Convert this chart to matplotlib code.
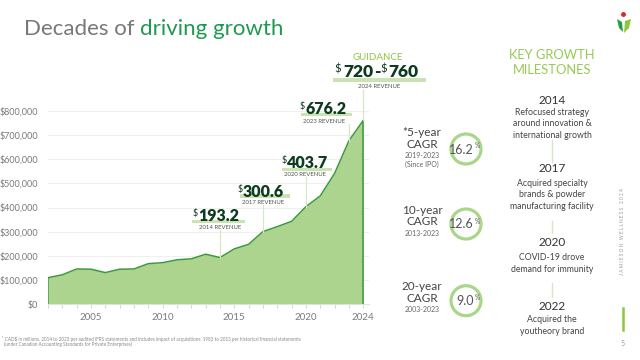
import matplotlib
matplotlib.use("Agg")
import matplotlib.pyplot as plt
from matplotlib.patches import Circle, Rectangle, Polygon
from matplotlib.ticker import FuncFormatter

plt.rcParams['font.family'] = ['Lato', 'DejaVu Sans']

# revenue, CAD$
years = list(range(2002, 2025))
revenue = [110000, 122000, 146000, 145000, 131000, 145000, 146000, 168000, 172000,
           184000, 188000, 207000, 193200, 229000, 248000, 300600, 321000, 343000,
           403700, 448000, 541000, 676200, 760000]
tick_years = [2005, 2010, 2015, 2020, 2024]
y_ticks = list(range(0, 800001, 100000))

callout_years = [2014, 2017, 2020, 2023]
callout_values = [193200, 300600, 403700, 676200]
guidance_low = 720
guidance_high = 760

cagr_names = ["*5-year", "10-year", "20-year"]
cagr_periods = [["2019-2023", "(Since IPO)"], ["2013-2023"], ["2003-2023"]]
cagr_values = [16.2, 12.6, 9.0]

milestone_years = ["2014", "2017", "2020", "2022"]
milestone_text = [["Refocused strategy", "around innovation &", "international growth"],
                  ["Acquired specialty", "brands & powder", "manufacturing facility"],
                  ["COVID-19 drove", "demand for immunity"],
                  ["Acquired the", "youtheory brand"]]

GREEN_FILL = "#acd48e"
GREEN_LINE = "#3c9a3c"
DARK = "#0d3b1d"
LIGHT = "#8dc63f"
BAND = "#c9e3b3"
GRAY = "#77787b"

fig = plt.figure(figsize=(6.4, 3.6), dpi=100)
fig.patch.set_facecolor("white")

# main area chart
ax = fig.add_axes([48 / 640, 1 - 304.3 / 360, (369 - 48) / 640, (304.3 - 110.7) / 360])
ax.fill_between(years, revenue, color=GREEN_FILL, lw=0, zorder=2)
ax.plot(years, revenue, color=GREEN_LINE, lw=1.1, zorder=3)
ax.vlines([years[0], years[-1]], 0, [revenue[0], revenue[-1]], color=GREEN_LINE, lw=1.1, zorder=3)
ax.set_xlim(2002, 2024.4)
ax.set_ylim(0, 800000)
ax.set_yticks(y_ticks)
ax.yaxis.set_major_formatter(FuncFormatter(lambda v, p: f"${v:,.0f}"))
ax.set_xticks(years)
ax.set_xticklabels([str(y) if y in tick_years else "" for y in years])
ax.tick_params(axis='y', length=0, pad=7, labelsize=6.5, labelcolor="#7a7a7a")
ax.tick_params(axis='x', length=3, width=0.6, color="#d0d0d0", pad=3, labelsize=7, labelcolor="#7a7a7a")
ax.grid(axis='y', color="#efefef", lw=0.8)
ax.set_axisbelow(True)
for s in ["top", "right", "left"]:
    ax.spines[s].set_visible(False)
ax.spines["bottom"].set_color("#e0e0e0")

# overlay in pixel coordinates
ov = fig.add_axes([0, 0, 1, 1], zorder=5)
ov.set_xlim(0, 640)
ov.set_ylim(360, 0)
ov.axis('off')
ov.patch.set_alpha(0)


def to_px(x, y):
    return ov.transData.inverted().transform(ax.transData.transform((x, y)))


# title
t1 = ov.text(24, 35, "Decades of ", fontsize=16, color=GRAY, va='baseline')
fig.canvas.draw()
bb = t1.get_window_extent().transformed(ov.transData.inverted())
ov.text(bb.x1, 35, "driving growth", fontsize=16, color="#1e9a50", va='baseline')

# callouts: num_x, baseline, band x0, x1, y0, y1, label cx, label y, line top
layout = [(198, 221, 192, 245, 219.5, 223, 220, 227.5, 230),
          (243, 196.7, 240, 290, 194, 197.5, 263, 202, 205),
          (287, 168.3, 282, 332, 167.5, 171, 305, 174, 177),
          (305, 114, 300.5, 352, 112.5, 116, 324, 121.7, 124)]
for yr, val, (nx, base, bx0, bx1, by0, by1, lcx, ly, ltop) in zip(callout_years, callout_values, layout):
    px, py = to_px(yr, val)
    ov.plot([px, px], [ltop, py], color="#d3e8c3", lw=0.9, zorder=1)
    ov.add_patch(Rectangle((bx0, by0), bx1 - bx0, by1 - by0, color=BAND, lw=0, zorder=1))
    ov.text(nx, base, f"{val / 1000:.1f}", fontsize=11.5, fontweight='heavy', color=DARK,
            va='baseline', ha='left', zorder=3)
    ov.text(nx, base - 12, "$", fontsize=6.5, color=DARK, va='top', ha='right', zorder=3)
    ov.text(lcx, ly, f"{yr} REVENUE", fontsize=4.3, color="#555555", ha='center', va='center', zorder=3)

# guidance
gx, gy = to_px(years[-1], revenue[-1])
ov.plot([gx, gx], [90, gy], color="#d3e8c3", lw=0.9, zorder=1)
ov.add_patch(Rectangle((333, 77.7), 93, 4, color=BAND, lw=0, zorder=1))
ov.text(378, 57.5, "GUIDANCE", fontsize=7, color=LIGHT, ha='center', va='center')
ov.text(343, 77.3, f"{guidance_low}", fontsize=12.5, fontweight='heavy', color=DARK, va='baseline', zorder=3)
ov.text(377.5, 77.3, "-", fontsize=12.5, fontweight='heavy', color=DARK, va='baseline', ha='center', zorder=3)
ov.text(388, 77.3, f"{guidance_high}", fontsize=12.5, fontweight='heavy', color=DARK, va='baseline', zorder=3)
ov.text(341, 64, "$", fontsize=8, color=DARK, va='top', ha='right', zorder=3)
ov.text(387, 64, "$", fontsize=8, color=DARK, va='top', ha='right', zorder=3)
ov.text(379, 86, f"{years[-1]} REVENUE", fontsize=4.3, color="#555555", ha='center', va='center')

# CAGR circles
row_y = [149, 224, 300.7]
for name, periods, val, cy in zip(cagr_names, cagr_periods, cagr_values, row_y):
    ty = cy - 16 if len(periods) == 2 else cy - 14
    ov.text(422, ty, name, fontsize=8.5, color="#444444", ha='center', va='center')
    ov.text(422, ty + 11.5, "CAGR", fontsize=8.5, color="#444444", ha='center', va='center')
    for i, p in enumerate(periods):
        ov.text(422, ty + 23 + i * 8, p, fontsize=5, color="#666666", ha='center', va='center')
    ov.add_patch(Circle((466, cy), 15, fill=False, ec="#a8d78a", lw=2.3))
    ov.text(474, cy + 0.5, f"{val:.1f}", fontsize=9, color="#555555", ha='right', va='center')
    ov.text(474.3, cy - 3, "%", fontsize=4.8, color="#555555", ha='left', va='center')

# milestones
ov.text(552, 55, "KEY GROWTH", fontsize=9.3, color="#95cb52", ha='center', va='center')
ov.text(552, 70, "MILESTONES", fontsize=9.3, color="#95cb52", ha='center', va='center')
year_y = [100, 168.3, 242.3, 306.7]
first_y = [112.7, 183.5, 257.7, 320]
for yr, lines, yy, fy in zip(milestone_years, milestone_text, year_y, first_y):
    ov.text(552, yy, yr, fontsize=8.5, color="#333333", ha='center', va='center')
    for i, ln in enumerate(lines):
        ov.text(552, fy + i * 11.3, ln, fontsize=6.3, color="#444444", ha='center', va='center')
for y0, y1 in [(140, 162), (221, 233), (283, 297)]:
    ov.plot([552, 552], [y0, y1], color="#d3e8c3", lw=1)

# side decorations
ov.text(623, 232, "J A M I E S O N   W E L L N E S S   2 0 2 4", fontsize=3.4, color="#999999",
        rotation=90, ha='center', va='center')
ov.plot([623, 623], [308, 330], color=LIGHT, lw=1.8)
ov.text(623, 344, "5", fontsize=5, color="#999999", ha='center', va='center')
ov.add_patch(Polygon([(617, 19), (622, 22), (623, 32), (619, 28)], color="#2e9a48", lw=0))
ov.add_patch(Polygon([(625, 21), (631, 19), (629, 28), (624, 33)], color="#8dc63f", lw=0))
ov.plot([623], [13.5], marker='o', ms=2.5, color="#d9262b")

# footnote
ov.text(2, 339, "¹ CAD$ in millions. 2014 to 2023 per audited IFRS statements and includes impact of acquisitions. "
        "1983 to 2013 per historical financial statements", fontsize=3.3, color="#888888",
        va='center', parse_math=False)
ov.text(4, 344.5, "(under Canadian Accounting Standards for Private Enterprises)", fontsize=3.3,
        color="#888888", va='center')

fig.savefig("out.png", dpi=100)
